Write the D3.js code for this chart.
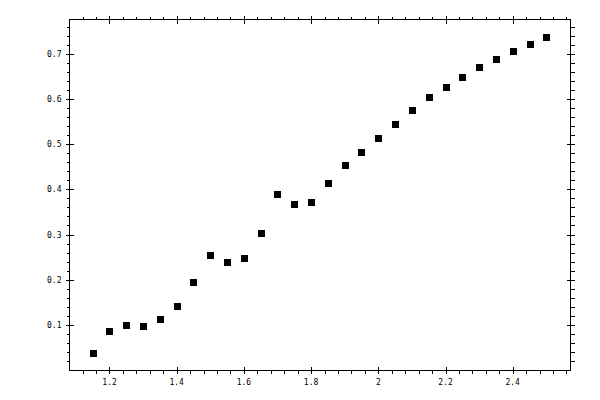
<!DOCTYPE html>
<html><head><meta charset="utf-8">
<script src="https://cdn.jsdelivr.net/npm/d3@7"></script>
<style>body{margin:0;background:#fff}svg{display:block}text{font-family:"DejaVu Sans Mono",monospace;font-size:8px;fill:#000}</style>
</head><body><svg id="c" width="600" height="400"></svg>
<script>
const xValues = [1.15,1.2,1.25,1.3,1.35,1.4,1.45,1.5,1.55,1.6,1.65,1.7,1.75,1.8,1.85,1.9,1.95,2.0,2.05,2.1,2.15,2.2,2.25,2.3,2.35,2.4,2.45,2.5];
const yValues = [0.038,0.087,0.100,0.098,0.113,0.142,0.195,0.255,0.2395,0.248,0.304,0.390,0.368,0.373,0.414,0.455,0.483,0.514,0.545,0.576,0.6035,0.627,0.649,0.671,0.689,0.706,0.722,0.738];
const xMajor = [1.2,1.4,1.6,1.8,2.0,2.2,2.4];
const xLabels = ["1.2","1.4","1.6","1.8","2","2.2","2.4"];
const yMajor = [0.1,0.2,0.3,0.4,0.5,0.6,0.7];
const yLabels = ["0.1","0.2","0.3","0.4","0.5","0.6","0.7"];

const L=69.5,R=570.5,T=19.5,B=370.5;
const x = d3.scaleLinear().domain([1.081,2.572]).range([L,R]);
const y = d3.scaleLinear().domain([-0.001,0.776]).range([B,T]);
const svg = d3.select("#c");
const g = svg.append("g").attr("shape-rendering","crispEdges").attr("stroke","#000").attr("stroke-width",1);

const xMinor = d3.range(28,65).map(i=>i*0.04).filter(v=>v>1.081&&v<2.572&&!xMajor.some(m=>Math.abs(m-v)<1e-6));
const yMinor = d3.range(1,39).map(i=>i*0.02).filter(v=>v<0.776&&!yMajor.some(m=>Math.abs(m-v)<1e-6));

g.append("rect").attr("x",L).attr("y",T).attr("width",R-L).attr("height",B-T).attr("fill","none");
const line=(x1,y1,x2,y2)=>g.append("line").attr("x1",x1).attr("y1",y1).attr("x2",x2).attr("y2",y2);
xMinor.forEach(v=>{const px=Math.round(x(v))+0.5; line(px,B,px,B+3); line(px,T,px,T-3);});
xMajor.forEach(v=>{const px=Math.round(x(v))+0.5; line(px,B-4,px,B+3); line(px,T-4,px,T+4);});
yMinor.forEach(v=>{const py=Math.round(y(v))+0.5; line(L-3,py,L,py); line(R,py,R+4,py);});
yMajor.forEach(v=>{const py=Math.round(y(v))+0.5; line(L-4,py,L+4,py); line(R-4,py,R+4,py);});

svg.append("g").selectAll("text").data(xMajor).join("text")
  .attr("x",d=>x(d)).attr("y",B+14).attr("text-anchor","middle").text((d,i)=>xLabels[i]);
svg.append("g").selectAll("text").data(yMajor).join("text")
  .attr("x",L-8).attr("y",d=>y(d)+3).attr("text-anchor","end").text((d,i)=>yLabels[i]);

svg.append("g").attr("shape-rendering","crispEdges").selectAll("rect").data(xValues).join("rect")
  .attr("x",(d)=>Math.round(x(d))-3).attr("y",(d,i)=>Math.round(y(yValues[i]))-3)
  .attr("width",7).attr("height",7).attr("fill","#000");
</script></body></html>
